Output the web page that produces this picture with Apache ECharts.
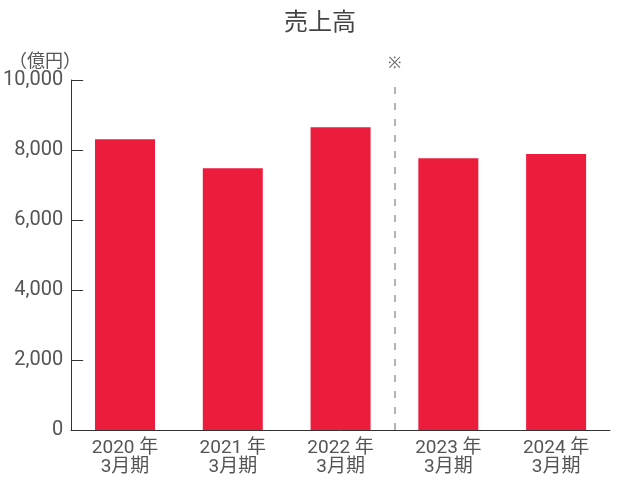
<!DOCTYPE html>
<html><head><meta charset="utf-8">
<script src="https://cdn.jsdelivr.net/npm/echarts@6/dist/echarts.min.js"></script>
<style>html,body{margin:0;padding:0;background:#fff}#c{width:640px;height:480px}</style>
</head><body><div id="c"></div>
<script>
var categories = ['2020 年\n3月期', '2021 年\n3月期', '2022 年\n3月期', '2023 年\n3月期', '2024 年\n3月期'];
var sales = [8306, 7477, 8648, 7762, 7886];
var yTicks = [0, 2000, 4000, 6000, 8000, 10000];
var dividerPos = [3];

var FONT = "Roboto, 'Noto Sans CJK JP', sans-serif";
var chart = echarts.init(document.getElementById('c'));
chart.setOption({
  animation: false,
  title: [{text: '売上高', left: 'center', top: 7,
    textStyle: {fontFamily: FONT, fontSize: 24, fontWeight: 'normal', color: '#444'}},
    {text: '（億円）', left: 4, top: 49,
    textStyle: {fontFamily: FONT, fontSize: 18, fontWeight: 'normal', color: '#555'}}],
  grid: {left: 70, right: 30, top: 80, bottom: 50},
  xAxis: [{
    type: 'category', data: categories,
    axisLine: {lineStyle: {color: '#333', width: 1}},
    axisTick: {inside: true, length: 8, lineStyle: {color: '#666'}},
    axisLabel: {fontFamily: FONT, fontSize: 19, color: '#555', lineHeight: 19, margin: 9}
  }, {
    type: 'value', min: 0, max: 5, show: false
  }],
  yAxis: {
    type: 'value', min: yTicks[0], max: yTicks[yTicks.length - 1], interval: 2000,
    axisLine: {show: true, lineStyle: {color: '#333', width: 1}},
    axisTick: {show: true, inside: true, length: 12, lineStyle: {color: '#333'}},
    splitLine: {show: false},
    axisLabel: {fontFamily: FONT, fontSize: 20, color: '#555', margin: 8,
      formatter: function (v) { return v.toLocaleString('en-US'); }}
  },
  series: [{
    type: 'bar', data: sales, barWidth: 60,
    itemStyle: {color: '#EC1C3C'}
  }, {
    type: 'line', xAxisIndex: 1, data: [],
    markLine: {
      silent: true, symbol: 'none',
      lineStyle: {color: '#999', type: [7, 9], width: 1.5},
      label: {show: true, position: 'end', formatter: '※', color: '#666', fontSize: 16, distance: 8},
      data: dividerPos.map(function (p) { return {xAxis: p}; })
    }
  }]
});
</script></body></html>
